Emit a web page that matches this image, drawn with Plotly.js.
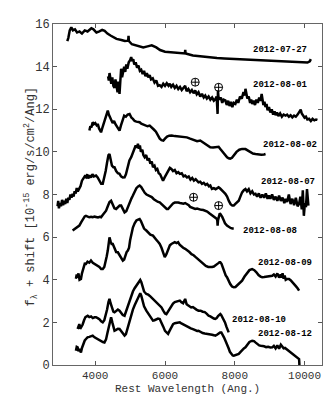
<!DOCTYPE html>
<html>
<head>
<meta charset="utf-8">
<script src="https://cdn.plot.ly/plotly-3.0.1.min.js"></script>
<style>
  html, body { margin: 0; padding: 0; background: #fff; }
  #chart { width: 327px; height: 395px; }
</style>
</head>
<body>
<div id="chart"></div>
<script>
// epoch labels, top to bottom
const dates = ['2012-07-27', '2012-08-01', '2012-08-02', '2012-08-07', '2012-08-08', '2012-08-09', '2012-08-10', '2012-08-12'];
// where each label sits (right edge, in data units)
const labelX = [10120, 10150, 10410, 10370, 9840, 10275, 9520, 10275];
const labelY = [14.76, 13.15, 10.34, 8.60, 6.27, 4.79, 2.11, 1.46];

// telluric markers
const earthX = [6866, 7537, 6818, 7537];
const earthY = [13.27, 13.03, 7.87, 7.48];

// spectra (rest wavelength in Ang., f_lambda + shift)
const wave0727 = [
  3200,3230,3270,3315,3360,3420,3480,3550,3620,3700,
  3780,3850,3890,3950,4035,4120,4200,4270,4350,4450,
  4610,4750,4850,4945,4955,4965,5050,5200,5377,5500,
  5620,5750,5858,6000,6200,6400,6570,6580,6590,6800,
  7000,7250,7490,7700,7970,8300,8600,8930,9300,9700,
  10000,10083,10150,10180];
const flux0727 = [
  15.2,15.35,15.7,15.85,15.7,15.75,15.6,15.65,15.55,15.7,
  15.65,15.75,15.8,15.75,15.6,15.65,15.72,15.68,15.55,15.45,
  15.3,15.25,15.2,15.22,15.45,15.2,15.05,14.98,14.9,14.95,
  15.0,14.9,14.78,14.7,14.66,14.63,14.62,14.78,14.62,14.52,
  14.48,14.43,14.4,14.38,14.36,14.33,14.3,14.28,14.24,14.2,
  14.18,14.19,14.25,14.35];

const wave0801 = [
  4369,4390,4410,4430,4460,4490,4520,4553,4580,4610,
  4640,4660,4680,4697,4715,4743,4770,4800,4830,4860,
  4890,4920,4960,5000,5031,5060,5090,5120,5160,5200,
  5240,5280,5319,5360,5400,5440,5480,5520,5561,5600,
  5650,5700,5750,5800,5849,5900,5950,6000,6050,6100,
  6137,6180,6230,6280,6330,6380,6430,6480,6530,6578,
  6620,6670,6720,6770,6820,6866,6910,6960,7010,7060,
  7110,7154,7200,7250,7300,7350,7400,7442,7480,7500,
  7508,7518,7530,7560,7600,7640,7680,7730,7770,7810,
  7850,7890,7930,7970,8018,8060,8100,8150,8200,8250,
  8290,8306,8330,8360,8400,8440,8470,8500,8540,8580,
  8620,8660,8700,8740,8770,8788,8820,8850,8880,8910,
  8940,8980,9020,9060,9100,9140,9170,9210,9250,9300,
  9350,9400,9458,9500,9550,9600,9650,9700,9750,9800,
  9850,9890,9920,9960,10000,10040,10080,10130,10180,10230,
  10280,10330,10370];
const flux0801 = [
  13.55,13.35,13.7,13.4,13.2,13.5,13.1,13.0,13.4,13.1,
  12.8,13.3,12.95,12.72,13.2,13.9,13.5,13.75,14.0,13.75,
  14.1,13.9,14.2,14.3,14.45,14.25,14.35,14.1,14.2,13.95,
  14.05,13.8,13.85,13.65,13.8,13.55,13.7,13.5,13.6,13.4,
  13.45,13.25,13.35,13.1,13.13,13.05,13.2,13.1,13.22,13.1,
  13.2,13.05,13.15,13.0,13.1,12.95,13.05,12.9,13.0,13.1,
  12.85,12.95,12.8,12.9,12.75,12.88,12.7,12.8,12.6,12.72,
  12.55,12.64,12.5,12.6,12.45,12.55,12.4,12.47,12.6,12.2,
  11.78,12.88,12.6,12.45,12.55,12.3,12.45,12.41,12.2,12.4,
  12.15,12.35,12.1,12.3,12.25,12.45,12.3,12.6,12.5,12.8,
  12.65,12.96,12.7,12.5,12.6,12.3,12.45,12.25,12.4,12.2,
  12.45,12.3,12.55,12.4,12.72,12.5,12.2,12.35,12.1,12.25,
  11.95,12.1,11.85,12.0,11.75,11.9,11.72,11.85,11.68,11.8,
  11.65,11.75,11.7,11.75,11.65,11.72,11.62,11.7,11.65,11.75,
  11.85,11.98,11.8,11.7,11.6,11.65,11.52,11.55,11.45,11.55,
  11.48,11.52,11.5];

const wave0802 = [
  3833,3860,3890,3928,3960,4000,4040,4072,4110,4140,
  4167,4200,4250,4300,4340,4360,4390,4420,4460,4500,
  4540,4580,4620,4660,4697,4740,4780,4830,4880,4930,
  4985,5010,5040,5080,5130,5180,5230,5273,5320,5380,
  5440,5500,5561,5620,5680,5740,5800,5850,5900,5953,
  6000,6060,6120,6195,6280,6370,6460,6540,6627,6720,
  6820,6920,7010,7100,7200,7298,7380,7450,7500,7537,
  7580,7650,7720,7780,7825,7870,7920,7970,8050,8130,
  8210,8306,8380,8450,8520,8594,8680,8760,8840,8882];
const flux0802 = [
  11.0,11.2,11.15,11.39,11.3,11.35,11.25,11.31,11.1,11.0,
  10.92,11.1,11.4,11.7,11.9,11.94,11.75,11.6,11.5,11.35,
  11.45,11.3,11.2,11.1,11.0,11.25,11.5,11.7,11.65,11.75,
  11.78,11.7,11.6,11.55,11.45,11.42,11.4,11.39,11.32,11.28,
  11.25,11.2,11.23,11.12,11.05,10.95,10.77,10.62,10.55,10.53,
  10.62,10.72,10.76,10.77,10.74,10.72,10.7,10.69,10.68,10.62,
  10.56,10.5,10.53,10.44,10.35,10.22,10.2,10.23,10.26,10.24,
  10.15,10.0,9.85,9.75,9.7,9.68,9.72,9.83,10.0,10.1,
  10.14,10.13,10.05,9.97,9.92,9.9,9.88,9.87,9.88,9.9];

const wave0807 = [
  2920,2940,2960,2990,3020,3050,3080,3110,3140,3170,
  3200,3230,3260,3290,3320,3352,3380,3410,3440,3470,
  3500,3545,3580,3620,3660,3700,3735,3770,3800,3840,
  3880,3920,3960,4023,4070,4120,4170,4216,4260,4300,
  4340,4380,4409,4440,4480,4520,4553,4600,4650,4697,
  4740,4790,4841,4880,4930,4980,5031,5080,5120,5160,
  5200,5224,5250,5280,5310,5350,5380,5417,5460,5500,
  5540,5580,5620,5656,5700,5740,5780,5820,5860,5900,
  5944,5990,6040,6090,6140,6183,6230,6280,6330,6380,
  6425,6480,6530,6578,6630,6680,6730,6780,6830,6880,
  6930,6960,7010,7060,7110,7160,7210,7260,7300,7345,
  7400,7450,7500,7537,7580,7640,7690,7730,7780,7830,
  7880,7930,7970,8010,8060,8114,8160,8210,8260,8306,
  8350,8400,8450,8500,8550,8594,8640,8690,8740,8790,
  8840,8890,8940,8978,9020,9070,9120,9170,9220,9270,
  9320,9370,9420,9458,9500,9550,9600,9650,9700,9750,
  9800,9843,9880,9920,9950,9980,10010,10040,10070,10110];
const flux0807 = [
  7.45,7.7,7.35,7.6,7.45,7.75,7.5,7.7,7.55,7.8,
  7.6,7.85,7.75,8.0,7.85,8.03,7.9,8.15,8.05,8.3,
  8.15,8.26,8.4,8.65,8.75,8.85,8.81,8.95,8.75,8.9,
  8.8,8.95,8.85,8.89,8.8,8.65,8.5,8.5,8.75,9.1,
  9.5,9.85,9.9,9.6,9.35,9.28,9.28,9.1,9.0,8.97,
  8.85,8.8,8.81,8.95,9.3,9.6,9.75,9.95,10.15,10.3,
  10.2,10.38,10.15,10.3,10.0,10.1,9.85,9.75,9.85,9.6,
  9.7,9.45,9.55,9.28,9.35,9.15,9.2,9.0,8.95,8.8,
  8.65,8.8,8.95,9.1,9.25,9.2,9.1,9.15,9.0,9.05,
  8.97,9.0,8.85,8.89,8.8,8.85,8.7,8.78,8.65,8.72,
  8.6,8.57,8.6,8.5,8.55,8.45,8.5,8.38,8.42,8.26,
  8.3,8.25,8.3,8.34,8.28,8.15,8.1,8.03,7.9,7.7,
  7.55,7.48,7.48,7.55,7.65,7.71,7.9,8.1,8.2,8.26,
  8.15,8.25,8.05,8.15,8.0,8.03,7.9,8.05,7.85,8.0,
  7.85,8.05,7.8,7.95,7.8,8.0,7.75,7.9,7.7,7.95,
  7.7,7.85,7.6,7.79,7.65,8.0,7.55,7.8,7.5,7.85,
  7.45,7.56,7.9,7.3,8.2,7.0,7.6,7.4,8.25,7.48];

const wave0808 = [
  3352,3400,3450,3500,3545,3600,3650,3700,3735,3780,
  3830,3880,3928,3980,4030,4080,4130,4167,4220,4270,
  4311,4360,4410,4455,4500,4550,4599,4650,4700,4743,
  4790,4841,4890,4940,4990,5040,5080,5130,5180,5230,
  5273,5320,5370,5420,5470,5520,5561,5620,5680,5740,
  5800,5849,5900,5950,6000,6050,6088,6130,6180,6230,
  6280,6327,6380,6430,6480,6530,6578,6630,6680,6720,
  6760,6800,6866,6920,6980,7040,7100,7154,7210,7270,
  7330,7390,7442,7470,7490,7500,7508,7520,7540,7565,
  7586,7610,7640,7680,7720,7777,7830,7880,7930,7970];
const flux0808 = [
  6.31,6.36,6.42,6.48,6.54,6.7,6.85,6.97,7.0,6.98,
  6.93,6.95,6.93,6.96,6.94,6.92,6.95,6.93,7.05,7.18,
  7.24,7.45,7.65,7.71,7.55,7.35,7.32,7.42,7.48,7.48,
  7.3,7.16,7.22,7.45,7.65,7.82,7.95,8.15,8.3,8.38,
  8.42,8.35,8.2,8.08,8.0,7.97,7.95,7.88,7.78,7.7,
  7.65,7.63,7.55,7.45,7.38,7.32,7.32,7.4,7.5,7.58,
  7.62,7.63,7.62,7.6,7.58,7.57,7.6,7.55,7.5,7.42,
  7.4,7.36,7.32,7.34,7.3,7.28,7.27,7.24,7.2,7.12,
  7.05,6.98,6.93,6.9,6.85,6.75,6.54,6.8,7.0,7.08,
  7.09,7.05,6.95,6.8,6.65,6.54,6.47,6.43,6.41,6.41];

const wave0809 = [
  3447,3470,3496,3520,3550,3591,3620,3660,3700,3735,
  3780,3830,3879,3930,3980,4030,4072,4120,4170,4216,
  4260,4300,4330,4360,4385,4409,4440,4470,4504,4550,
  4600,4648,4700,4750,4792,4830,4870,4900,4936,4970,
  5000,5031,5080,5130,5180,5230,5273,5310,5350,5400,
  5465,5520,5580,5656,5700,5750,5800,5849,5900,5950,
  5993,6040,6090,6140,6183,6230,6280,6330,6376,6420,
  6470,6520,6578,6640,6700,6760,6820,6880,6960,7030,
  7100,7170,7240,7298,7350,7400,7442,7490,7530,7560,
  7586,7620,7660,7700,7740,7777,7820,7870,7920,7970,
  8020,8080,8140,8210,8280,8350,8420,8498,8560,8620,
  8680,8740,8786,8840,8900,8960,9020,9074,9120,9170,
  9220,9270,9314,9340,9370,9400,9430,9460,9500,9554,
  9600,9650,9700,9750,9800,9843];
const flux0809 = [
  4.05,4.25,4.1,4.3,4.0,4.04,4.3,4.6,4.75,4.74,
  4.85,4.8,4.9,4.8,4.75,4.7,4.66,4.6,4.5,4.5,
  4.6,4.85,5.1,5.37,5.75,5.99,5.8,5.68,5.68,5.45,
  5.3,5.29,5.15,5.0,4.9,4.95,5.2,5.3,5.37,5.5,
  5.85,6.15,6.45,6.65,6.78,6.82,6.85,6.75,6.55,6.4,
  6.31,6.2,6.12,6.07,6.0,5.88,5.78,5.68,5.5,5.25,
  5.06,5.2,5.45,5.62,5.68,5.74,5.76,5.72,5.76,5.65,
  5.55,5.5,5.45,5.38,5.3,5.2,5.15,5.06,4.95,4.85,
  4.75,4.65,4.6,4.59,4.6,4.62,4.66,4.72,4.78,4.82,
  4.82,4.75,4.55,4.35,4.2,4.12,3.95,3.8,3.68,3.65,
  3.66,3.75,3.88,3.96,4.15,4.32,4.45,4.5,4.45,4.35,
  4.22,4.15,4.12,4.13,4.15,4.18,4.2,4.19,4.25,4.15,
  4.3,4.1,4.25,4.1,4.3,4.05,4.2,4.0,4.04,4.04,
  3.98,3.9,3.8,3.7,3.6,3.49];

const wave0810 = [
  3496,3520,3545,3570,3600,3640,3680,3720,3784,3830,
  3880,3930,3980,4023,4070,4120,4170,4216,4260,4300,
  4340,4380,4409,4440,4480,4520,4553,4600,4650,4697,
  4740,4790,4841,4880,4930,4980,5031,5080,5130,5176,
  5220,5260,5291,5320,5360,5400,5465,5520,5580,5656,
  5700,5750,5800,5849,5900,5950,6000,6040,6080,6130,
  6183,6230,6280,6330,6380,6425,6470,6520,6578,6620,
  6660,6700,6750,6800,6850,6900,6960,7020,7080,7140,
  7200,7250,7300,7350,7400,7442,7480,7520,7560,7586,
  7610,7640,7682,7720,7760,7790,7825];
const flux0810 = [
  1.69,1.85,1.92,1.7,1.77,1.9,2.1,2.25,2.31,2.25,
  2.28,2.2,2.24,2.24,2.2,2.15,2.05,2.0,2.1,2.3,
  2.6,2.95,3.1,2.9,2.65,2.5,2.47,2.55,2.6,2.55,
  2.45,2.35,2.31,2.5,2.8,3.05,3.25,3.45,3.6,3.72,
  3.82,3.92,3.99,3.9,3.7,3.45,3.33,3.3,3.22,3.1,
  3.05,2.95,2.85,2.78,2.7,2.55,2.42,2.39,2.5,2.65,
  2.78,2.88,2.95,2.98,3.0,3.02,2.95,2.9,3.1,2.85,
  2.8,2.75,2.7,2.72,2.65,2.6,2.55,2.55,2.5,2.48,
  2.4,2.31,2.28,2.22,2.18,2.16,2.2,2.3,2.38,2.39,
  2.35,2.25,2.16,2.0,1.8,1.65,1.53];

const wave0812 = [
  3447,3470,3496,3520,3550,3591,3620,3660,3700,3735,
  3780,3830,3880,3928,3980,4030,4080,4120,4170,4220,
  4265,4310,4350,4390,4430,4455,4490,4520,4553,4600,
  4650,4697,4740,4790,4841,4880,4930,4985,5030,5080,
  5130,5176,5220,5260,5291,5320,5360,5400,5465,5520,
  5580,5656,5700,5750,5800,5849,5900,5950,6000,6050,
  6088,6130,6180,6232,6280,6330,6380,6425,6470,6520,
  6578,6620,6680,6740,6800,6860,6920,6960,7020,7080,
  7140,7200,7250,7300,7350,7400,7442,7490,7540,7580,
  7615,7650,7690,7730,7777,7820,7860,7900,7940,7970,
  8010,8060,8114,8160,8210,8260,8306,8360,8420,8498,
  8550,8600,8650,8700,8750,8786,8840,8900,8960,9020,
  9074,9120,9170,9220,9270,9320,9362,9400,9440,9480,
  9520,9560,9600,9650,9700,9750,9800,9843,9850,9852];
const flux0812 = [
  0.67,0.85,0.83,0.65,0.75,0.59,0.8,1.0,1.15,1.22,
  1.3,1.32,1.35,1.38,1.3,1.25,1.2,1.14,1.1,1.08,
  1.06,1.2,1.5,1.85,2.15,2.24,2.0,1.75,1.61,1.65,
  1.7,1.69,1.6,1.5,1.38,1.45,1.75,2.08,2.35,2.6,
  2.8,2.95,3.15,3.3,3.37,3.25,3.0,2.75,2.55,2.4,
  2.25,2.08,2.1,2.15,2.18,2.16,2.0,1.8,1.6,1.5,
  1.46,1.6,1.8,1.92,1.96,1.98,2.0,2.0,1.95,1.9,
  1.85,1.8,1.75,1.72,1.68,1.63,1.6,1.61,1.55,1.5,
  1.48,1.47,1.46,1.44,1.42,1.4,1.38,1.42,1.5,1.53,
  1.53,1.45,1.3,1.15,0.99,0.8,0.62,0.5,0.45,0.44,
  0.46,0.48,0.52,0.6,0.7,0.78,0.83,0.95,1.08,1.14,
  1.12,1.05,0.98,0.92,0.9,0.9,0.88,0.84,0.85,0.82,
  0.83,0.9,0.78,0.92,0.76,0.95,0.83,0.78,0.8,0.75,
  0.72,0.68,0.59,0.55,0.5,0.42,0.35,0.28,0.1,0.0];

const waves = [wave0727, wave0801, wave0802, wave0807, wave0808, wave0809, wave0810, wave0812];
const fluxes = [flux0727, flux0801, flux0802, flux0807, flux0808, flux0809, flux0810, flux0812];

const mono = 'Liberation Mono, Courier New, monospace';
const textGrey = '#333';

const traces = waves.map((w, i) => ({
  x: w,
  y: fluxes[i],
  type: 'scatter',
  mode: 'lines',
  line: {color: '#000', width: 2.5},
  hoverinfo: 'skip',
  showlegend: false
}));

traces.push({
  x: earthX,
  y: earthY,
  type: 'scatter',
  mode: 'markers',
  marker: {symbol: 'circle-cross-open', size: 8, color: '#000', line: {width: 1, color: '#000'}},
  hoverinfo: 'skip',
  showlegend: false
});

const annotations = dates.map((d, i) => ({
  x: labelX[i],
  y: labelY[i],
  xref: 'x',
  yref: 'y',
  text: '<b>' + d + '</b>',
  showarrow: false,
  xanchor: 'right',
  yanchor: 'middle',
  font: {family: mono, size: 9, color: '#000'}
}));

// axis titles placed by hand so they sit as tight as in the original
annotations.push({
  xref: 'paper', yref: 'paper', x: 0.5, y: 0,
  xanchor: 'center', yanchor: 'middle', yshift: -24,
  showarrow: false, borderpad: 0,
  text: 'Rest Wavelength (Ang.)',
  font: {family: mono, size: 11, color: textGrey}
});
annotations.push({
  xref: 'paper', yref: 'paper', x: 0, y: 0.494,
  xanchor: 'center', yanchor: 'middle', xshift: -22,
  textangle: -90,
  showarrow: false,
  text: 'f<sub>λ</sub> + shift [10<sup>-15</sup> erg/s/cm<sup>2</sup>/Ang]',
  font: {family: mono, size: 12, color: textGrey}
});

const layout = {
  width: 327,
  height: 395,
  margin: {l: 53, r: 5, t: 24, b: 30},
  paper_bgcolor: '#fff',
  plot_bgcolor: '#fff',
  font: {family: mono, size: 12, color: textGrey},
  xaxis: {
    range: [2790, 10500],
    tickvals: [4000, 6000, 8000, 10000],
    tickformat: 'd',
    ticks: 'inside',
    ticklen: 4,
    tickcolor: '#555',
    showline: true,
    linecolor: '#666',
    linewidth: 1,
    mirror: 'ticks',
    showgrid: false,
    zeroline: false,
    tickfont: {family: mono, size: 11, color: textGrey}
  },
  yaxis: {
    range: [0, 16],
    dtick: 2,
    ticks: 'inside',
    ticklen: 4,
    tickcolor: '#555',
    showline: true,
    linecolor: '#666',
    linewidth: 1,
    mirror: 'ticks',
    showgrid: false,
    zeroline: false,
    tickfont: {family: mono, size: 12, color: textGrey}
  },
  annotations: annotations
};

Plotly.newPlot('chart', traces, layout, {staticPlot: true, displayModeBar: false});
</script>
</body>
</html>
